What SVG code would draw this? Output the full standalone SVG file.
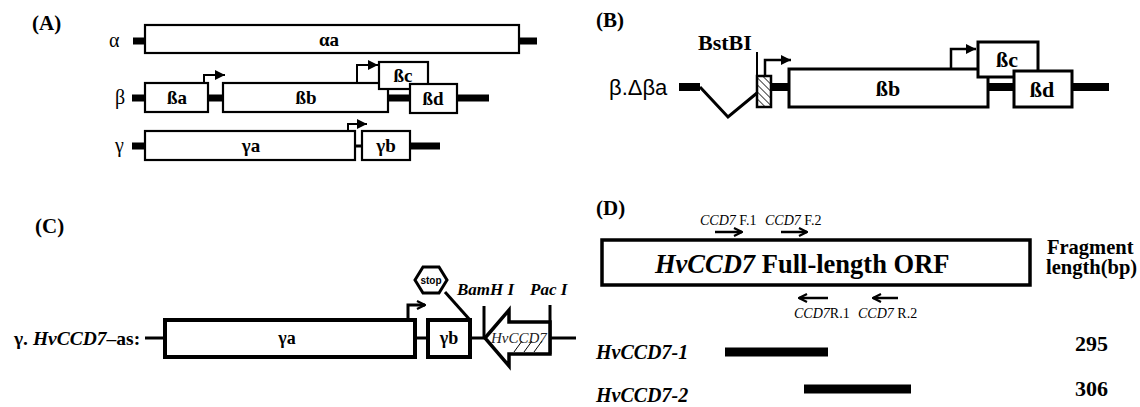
<svg xmlns="http://www.w3.org/2000/svg" width="1140" height="407" viewBox="0 0 1140 407">
<defs>
<style>
text{font-family:"Liberation Serif","Times New Roman",serif;fill:#000}
.pl{font-size:21px;font-weight:bold}
.gl{font-size:20px}
.bx{fill:#fff;stroke:#000}
.a{stroke-width:2.2}
.b{stroke-width:3}
.c{stroke-width:4}
.tA{font-size:19px;font-weight:bold;text-anchor:middle}
.tB{font-size:22px;font-weight:bold;text-anchor:middle}
.tC{font-size:18px;font-weight:bold;text-anchor:middle}
.stub{stroke:#000;stroke-width:7;fill:none}
.thin{stroke:#000;stroke-width:3;fill:none}
.prom{stroke:#000;stroke-width:2;fill:none}
.it{font-style:italic}
.bi{font-weight:bold;font-style:italic}
.pr{font-size:14px}
.fr{font-size:20.5px;font-weight:bold}
.num{font-size:22px;font-weight:bold}
.bar{stroke:#000;stroke-width:9}
.darr{stroke:#000;stroke-width:2.5;fill:none}
</style>
<marker id="tri" viewBox="0 0 10 10" refX="10" refY="5" markerWidth="11" markerHeight="10" markerUnits="userSpaceOnUse" orient="auto">
<path d="M0,0 L10,5 L0,10 z" fill="#000"/>
</marker>
<marker id="chev" viewBox="0 0 10 10" refX="9" refY="5" markerWidth="10" markerHeight="10" markerUnits="userSpaceOnUse" orient="auto">
<path d="M1,1 L9,5 L1,9" fill="none" stroke="#000" stroke-width="2.2"/>
</marker>
<pattern id="hatch" width="5" height="5" patternUnits="userSpaceOnUse" patternTransform="rotate(-45)">
<line x1="0" y1="0" x2="0" y2="5" stroke="#000" stroke-width="1.5"/>
</pattern>
</defs>
<rect width="1140" height="407" fill="#fff"/>

<!-- connectors -->
<g id="connectors">
<!-- panel A -->
<path class="stub" d="M133,41 H145 M519,41 H537"/>
<path class="stub" d="M132,98 H145 M208,98 H223 M388,98 H410 M457,98 H489"/>
<path class="stub" d="M132,146 H145 M410,146 H440"/>
<path class="thin" d="M355,146 H362"/>
<path class="prom" d="M204,83 V75 H225" marker-end="url(#tri)"/>
<path class="prom" d="M357,84 V65 H378" marker-end="url(#tri)"/>
<path class="prom" d="M348,131 V124 H367" marker-end="url(#tri)"/>
<!-- panel B -->
<path class="stub" style="stroke-width:8" d="M679,87 H700 M771,87 H789 M988,87 H1014 M1072,87 H1109"/>
<polyline class="thin" points="700,87 728,117 757,93"/>
<line class="prom" x1="757" y1="52" x2="757" y2="76"/>
<path class="prom" style="stroke-width:2.5" d="M765,76 V60 H791" marker-end="url(#tri)"/>
<path class="prom" style="stroke-width:2.5" d="M951,69 V49 H976" marker-end="url(#tri)"/>
<!-- panel C -->
<path class="thin" d="M145,338 H165 M415,338 H428 M470,338 H485 M550,338 H576"/>
<path class="thin" d="M408,320 V305 H425" marker-end="url(#chev)"/>
<line class="thin" x1="445" y1="292" x2="470" y2="320"/>
<line class="thin" x1="484" y1="306" x2="484" y2="338"/>
<line class="thin" x1="550" y1="305" x2="550" y2="354"/>
<!-- panel D -->
<path class="darr" d="M715,232 H742" marker-end="url(#chev)"/>
<path class="darr" d="M781,232 H807" marker-end="url(#chev)"/>
<path class="darr" d="M828,298 H799" marker-end="url(#chev)"/>
<path class="darr" d="M898,298 H873" marker-end="url(#chev)"/>
</g>

<!-- Panel A -->
<g id="panelA-label"><text class="pl" x="32" y="30">(A)</text></g>
<g id="alpha-label"><text class="gl" x="109" y="47">α</text></g>
<g id="beta-label"><text class="gl" x="115" y="104">β</text></g>
<g id="gamma-label"><text class="gl" x="115" y="152">γ</text></g>
<g id="alpha-a"><rect class="bx a" x="145" y="25" width="374" height="28"/><text class="tA" x="329" y="46">αa</text></g>
<g id="beta-a"><rect class="bx a" x="145" y="83" width="63" height="29"/><text class="tA" x="177" y="104">ßa</text></g>
<g id="beta-b"><rect class="bx a" x="223" y="83" width="165" height="29"/><text class="tA" x="306" y="104">ßb</text></g>
<g id="beta-c"><rect class="bx a" x="379" y="62" width="49" height="27"/><text class="tA" x="403" y="82">ßc</text></g>
<g id="beta-d"><rect class="bx a" x="410" y="84" width="47" height="29"/><text class="tA" x="433" y="105">ßd</text></g>
<g id="gamma-a"><rect class="bx a" x="145" y="131" width="210" height="29"/><text class="tA" x="251" y="152">γa</text></g>
<g id="gamma-b"><rect class="bx a" x="362" y="131" width="48" height="29"/><text class="tA" x="386" y="152">γb</text></g>

<!-- Panel B -->
<g id="panelB-label"><text class="pl" x="596" y="27">(B)</text></g>
<g id="bstbi"><text x="698" y="50" style="font-size:22px;font-weight:bold">BstBI</text></g>
<g id="bdba-label"><text x="609" y="95" style="font-family:'Liberation Sans',Arial,sans-serif;font-size:22px">β.Δβa</text></g>
<g id="hatched"><rect x="757" y="76" width="14" height="31" fill="url(#hatch)" stroke="#000" stroke-width="2.5"/></g>
<g id="B-beta-b"><rect class="bx b" x="789" y="69" width="199" height="38"/><text class="tB" x="888" y="96">ßb</text></g>
<g id="B-beta-c"><rect class="bx b" x="978" y="42" width="60" height="35"/><text class="tB" x="1007" y="67">ßc</text></g>
<g id="B-beta-d"><rect class="bx b" x="1014" y="71" width="58" height="36"/><text class="tB" x="1042" y="97">ßd</text></g>

<!-- Panel C -->
<g id="panelC-label"><text class="pl" x="35" y="233">(C)</text></g>
<g id="C-label"><text x="14" y="345" style="font-size:19.5px;font-weight:bold">γ. <tspan class="it">HvCCD7</tspan>–as:</text></g>
<g id="C-gamma-a"><rect class="bx c" x="165" y="320" width="250" height="37"/><text class="tC" x="287" y="344">γa</text></g>
<g id="C-gamma-b"><rect class="bx c" x="428" y="320" width="42" height="37"/><text class="tC" x="449" y="344">γb</text></g>
<g id="stop"><polygon class="bx" stroke-width="3" points="415,280 423,267 439,267 447,280 439,293 423,293"/><text x="431" y="284" text-anchor="middle" style="font-family:'Liberation Sans',Arial,sans-serif;font-size:10px;font-weight:bold">stop</text></g>
<g id="bamhi"><text class="bi" x="457" y="295" style="font-size:17px">BamH I</text></g>
<g id="paci"><text class="bi" x="530" y="295" style="font-size:17px">Pac I</text></g>
<g id="hvccd7-arrow">
<polygon class="bx" stroke-width="3.5" points="485,338 509,310 509,322 550,322 550,354 509,354 509,366"/>
<path d="M514,352 L522,341 M524,352 L532,341 M534,352 L542,341" stroke="#000" stroke-width="1"/>
<text class="it" x="491" y="343" style="font-size:15px;fill:#222">HvCCD7</text>
</g>

<!-- Panel D -->
<g id="panelD-label"><text class="pl" x="596" y="215">(D)</text></g>
<g id="f1"><text class="pr" x="700" y="225"><tspan class="it">CCD7</tspan> F.1</text></g>
<g id="f2"><text class="pr" x="765" y="225"><tspan class="it">CCD7</tspan> F.2</text></g>
<g id="orf"><rect class="bx" stroke-width="3.5" x="602" y="240" width="428" height="45"/><text x="655" y="273" style="font-size:26.5px;font-weight:bold"><tspan class="it">HvCCD7</tspan> Full-length ORF</text></g>
<g id="r1"><text class="pr" x="794" y="318"><tspan class="it">CCD7</tspan>R.1</text></g>
<g id="r2"><text class="pr" x="858" y="318"><tspan class="it">CCD7</tspan> R.2</text></g>
<g id="frag"><text class="fr" x="1047" y="254">Fragment</text><text class="fr" x="1046" y="274">length(bp)</text></g>
<g id="hv1"><text class="bi" x="596" y="359" style="font-size:20px">HvCCD7-1</text><line class="bar" x1="725" y1="352" x2="828" y2="352"/><text class="num" x="1075" y="351">295</text></g>
<g id="hv2"><text class="bi" x="596" y="402" style="font-size:20px">HvCCD7-2</text><line class="bar" x1="804" y1="389" x2="911" y2="389"/><text class="num" x="1075" y="396">306</text></g>
</svg>
